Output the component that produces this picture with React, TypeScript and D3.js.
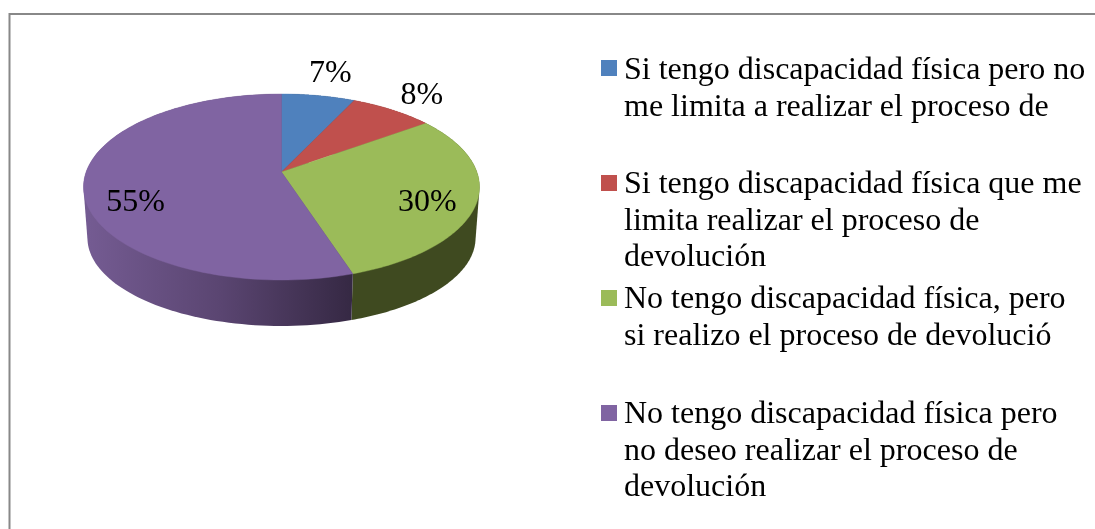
import React from "react";
import * as d3 from "d3";

const shares = [7, 8, 30, 55];
const colors = ["#4f81bd", "#c0504d", "#9bbb59", "#8064a2"];
const sideColors = ["#2a4466", "#67292a", "#3f4a20", "url(#purpleSide)"];
const legendLines = [
  ["Si tengo discapacidad física pero no", "me limita a realizar el proceso de"],
  ["Si tengo discapacidad física que me", "limita realizar el proceso de", "devolución"],
  ["No tengo discapacidad física, pero", "si realizo el proceso de devolució"],
  ["No tengo discapacidad física pero", "no deseo realizar el proceso de", "devolución"],
];

const W = 1095;
const H = 529;
const FONT = "'Liberation Serif', 'Times New Roman', serif";
const FS = 32;

// Perspective projection of a unit disc onto the page
const K = -0.1613;
const project = (cx: number, apexY: number, c: number, b: number) => (deg: number, r = 1): [number, number] => {
  const t = (deg * Math.PI) / 180;
  const u = r * Math.sin(t);
  const v = -r * Math.cos(t);
  const w = 1 + K * v;
  return [cx + (c * u) / w, apexY + (b * v) / w];
};
const topFace = project(281.5, 172, 195.4, 90.6);
const bottomRim = project(281.5, 223.8, 191.5, 85.7);

const labelPlacement = [
  { r: 1.4, shift: 0 },
  { r: 1.31, shift: 0 },
  { r: 0.77, shift: 4.8 },
  { r: 0.77, shift: -13.4 },
];
const legendMarkerTop = [60, 175, 290, 405];
const legendFirstBaseline = [79, 193, 308, 423];

const line = d3.line<[number, number]>().x((d) => d[0]).y((d) => d[1]);
const toDeg = d3.scaleLinear().domain([0, 2 * Math.PI]).range([0, 360]);

export default function App() {
  const arcs = d3.pie<number>().sort(null)(shares).map((a) => ({
    value: a.value,
    startAngle: toDeg(a.startAngle),
    endAngle: toDeg(a.endAngle),
  }));
  const sweep = (f: (a: number) => [number, number], a0: number, a1: number) =>
    d3.range(0, 121).map((i) => f(a0 + ((a1 - a0) * i) / 120));

  return (
    <svg
      width={W}
      height={H}
      viewBox={`0 0 ${W} ${H}`}
      style={{ position: "fixed", left: 0, top: 0, display: "block", background: "#fff", filter: "blur(0.35px)" }}
      fontFamily={FONT}
    >
      <defs>
        <linearGradient id="purpleSide" gradientUnits="userSpaceOnUse" x1={88} x2={354} y1={0} y2={0}>
          <stop offset="0" stopColor="#745b92" />
          <stop offset="0.5" stopColor="#5a4571" />
          <stop offset="1" stopColor="#352843" />
        </linearGradient>
      </defs>
      <rect x={9.5} y={14} width={W + 40} height={H + 40} fill="#fff" stroke="#888888" strokeWidth={2} />

      {arcs.map((a, i) => {
        const top = sweep(topFace, a.startAngle, a.endAngle);
        const bottom = sweep(bottomRim, a.startAngle, a.endAngle);
        const hull = d3.polygonHull([...top, ...bottom]) as [number, number][];
        return <path key={"side" + i} d={line(hull)! + "Z"} fill={sideColors[i]} />;
      })}
      {arcs.map((a, i) => {
        const rim = sweep(topFace, a.startAngle, a.endAngle);
        return (
          <path
            key={"face" + i}
            d={line([topFace(0, 0), ...rim])! + "Z"}
            fill={colors[i]}
            stroke={colors[i]}
            strokeWidth={0.4}
          />
        );
      })}
      {arcs.map((a, i) => {
        const mid = (a.startAngle + a.endAngle) / 2 + labelPlacement[i].shift;
        const [x, y] = topFace(mid, labelPlacement[i].r);
        return (
          <text key={"label" + i} x={x} y={y + 11} fontSize={FS} textAnchor="middle" fill="#000">
            {a.value}%
          </text>
        );
      })}

      {legendLines.map((lines, i) => (
        <g key={"legend" + i}>
          <rect x={601} y={legendMarkerTop[i]} width={16} height={16} fill={colors[i]} />
          {lines.map((t, j) => (
            <text key={j} x={624} y={legendFirstBaseline[i] + j * 36.7} fontSize={FS} fill="#000">
              {t}
            </text>
          ))}
        </g>
      ))}
    </svg>
  );
}
